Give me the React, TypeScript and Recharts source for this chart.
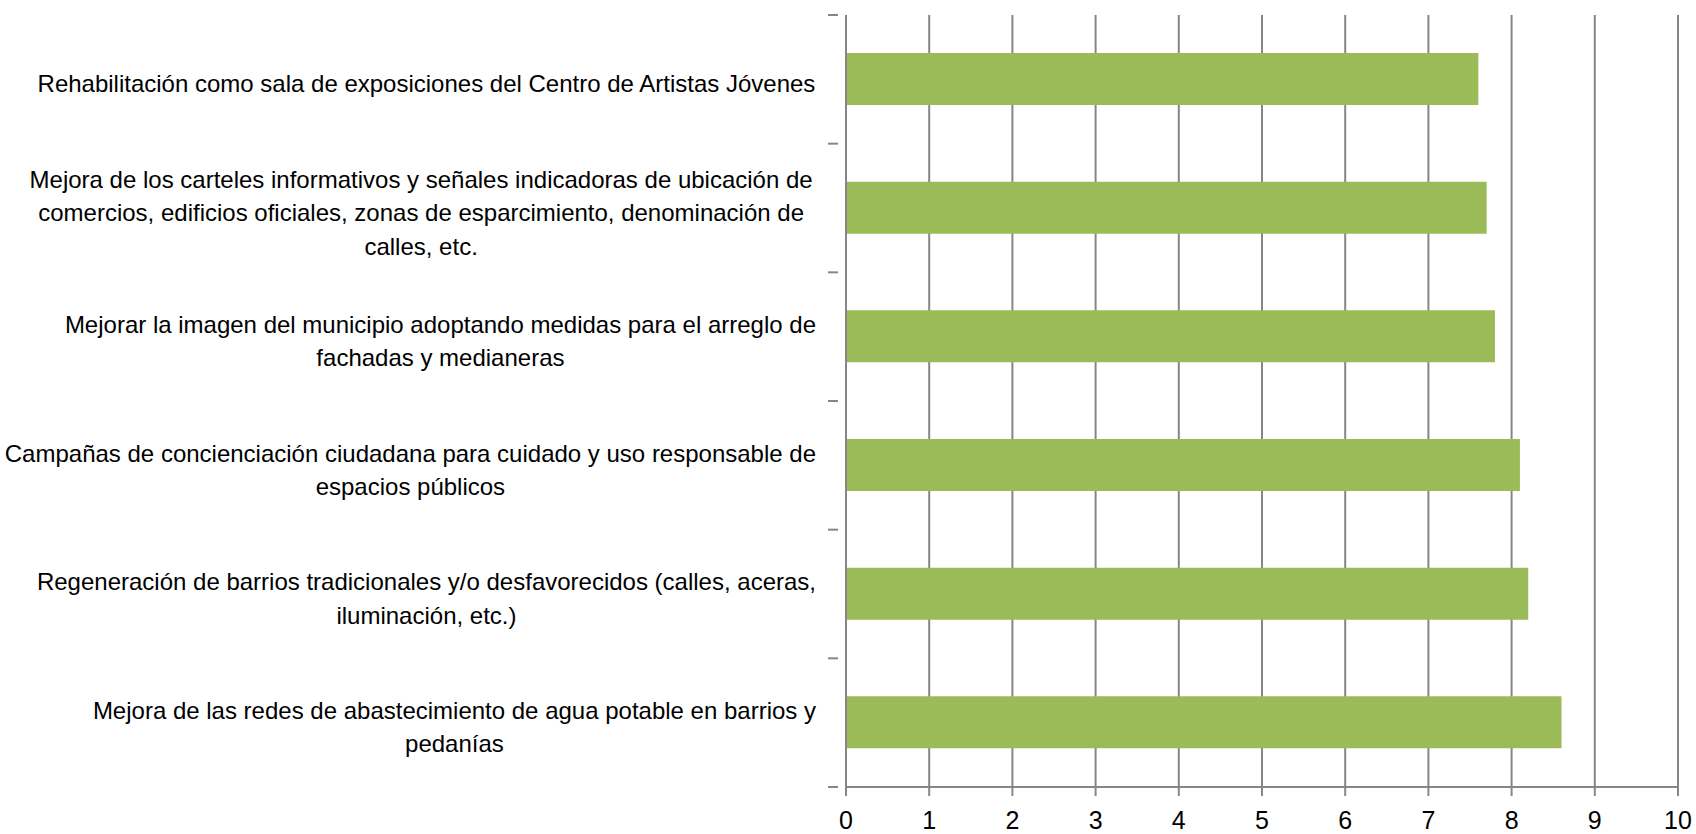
import React from "react";
import { Bar, BarChart, CartesianGrid, XAxis, YAxis } from "recharts";

const categories = [
  "Rehabilitación como sala de exposiciones del Centro de Artistas Jóvenes",
  "Mejora de los carteles informativos  y señales indicadoras de ubicación de\ncomercios, edificios oficiales, zonas de esparcimiento, denominación de\ncalles, etc.",
  "Mejorar la imagen del municipio adoptando medidas para el arreglo de\nfachadas y medianeras",
  "Campañas de concienciación ciudadana para cuidado y uso responsable de\nespacios públicos",
  "Regeneración de barrios tradicionales y/o desfavorecidos (calles, aceras,\niluminación, etc.)",
  "Mejora de las redes de abastecimiento de agua potable en barrios y\npedanías",
];
const values = [7.6, 7.7, 7.8, 8.1, 8.2, 8.6];
const xTicks = [0, 1, 2, 3, 4, 5, 6, 7, 8, 9, 10];

const FONT = "'Liberation Sans', Arial, sans-serif";
const LABEL_SIZE = 24;
const GRID = "#868686";

const data = categories.map((name, i) => ({ name, value: values[i] }));

let ctx: CanvasRenderingContext2D | null = null;
function textWidth(s: string) {
  if (!ctx) ctx = document.createElement("canvas").getContext("2d");
  if (!ctx) return s.length * 10;
  ctx.font = `${LABEL_SIZE}px ${FONT}`;
  return ctx.measureText(s).width;
}

// category label (Excel-style: block right-aligned, lines centred) plus
// the boundary tick marks drawn between categories
function CategoryTick(props: any) {
  const { x, y, payload, index } = props;
  const lines: string[] = String(payload.value).split("\n");
  const half = payload.offset ?? 64;
  const lh = 33.5;
  const right = x - 22;
  const blockW = Math.max(...lines.map(textWidth));
  const cx = right - blockW / 2;
  const startY = y + 4 - ((lines.length - 1) * lh) / 2;
  return (
    <g>
      <line x1={x - 10} x2={x} y1={y - half} y2={y - half} stroke={GRID} strokeWidth={2} />
      {index === categories.length - 1 && (
        <line x1={x - 10} x2={x} y1={y + half} y2={y + half} stroke={GRID} strokeWidth={2} />
      )}
      <text
        textAnchor="middle"
        dominantBaseline="central"
        fontFamily={FONT}
        fontSize={LABEL_SIZE}
        fill="#000"
      >
        {lines.map((l, i) => (
          <tspan key={i} x={cx} y={startY + i * lh}>
            {l}
          </tspan>
        ))}
      </text>
    </g>
  );
}

function ValueTick(props: any) {
  const { x, y, payload } = props;
  return (
    <text x={x} y={y} textAnchor="middle" fontFamily={FONT} fontSize={25} fill="#000">
      {payload.value}
    </text>
  );
}

export default function App() {
  return (
    <div style={{ position: "absolute", left: 0, top: 0, background: "#fff" }}>
      <BarChart
        width={1696}
        height={834}
        data={data}
        layout="vertical"
        margin={{ top: 15, right: 18, left: 0, bottom: 0 }}
        barCategoryGap={0}
      >
        <CartesianGrid horizontal={false} vertical stroke={GRID} strokeWidth={2} />
        <XAxis
          type="number"
          domain={[0, 10]}
          ticks={xTicks}
          interval={0}
          height={47}
          stroke={GRID}
          strokeWidth={2}
          tickSize={9}
          tickMargin={33}
          tick={<ValueTick />}
        />
        <YAxis
          type="category"
          dataKey="name"
          width={846}
          stroke={GRID}
          strokeWidth={2}
          tickLine={false}
          interval={0}
          tick={<CategoryTick />}
        />
        <Bar dataKey="value" fill="#9BBB59" barSize={52} isAnimationActive={false} />
      </BarChart>
    </div>
  );
}
